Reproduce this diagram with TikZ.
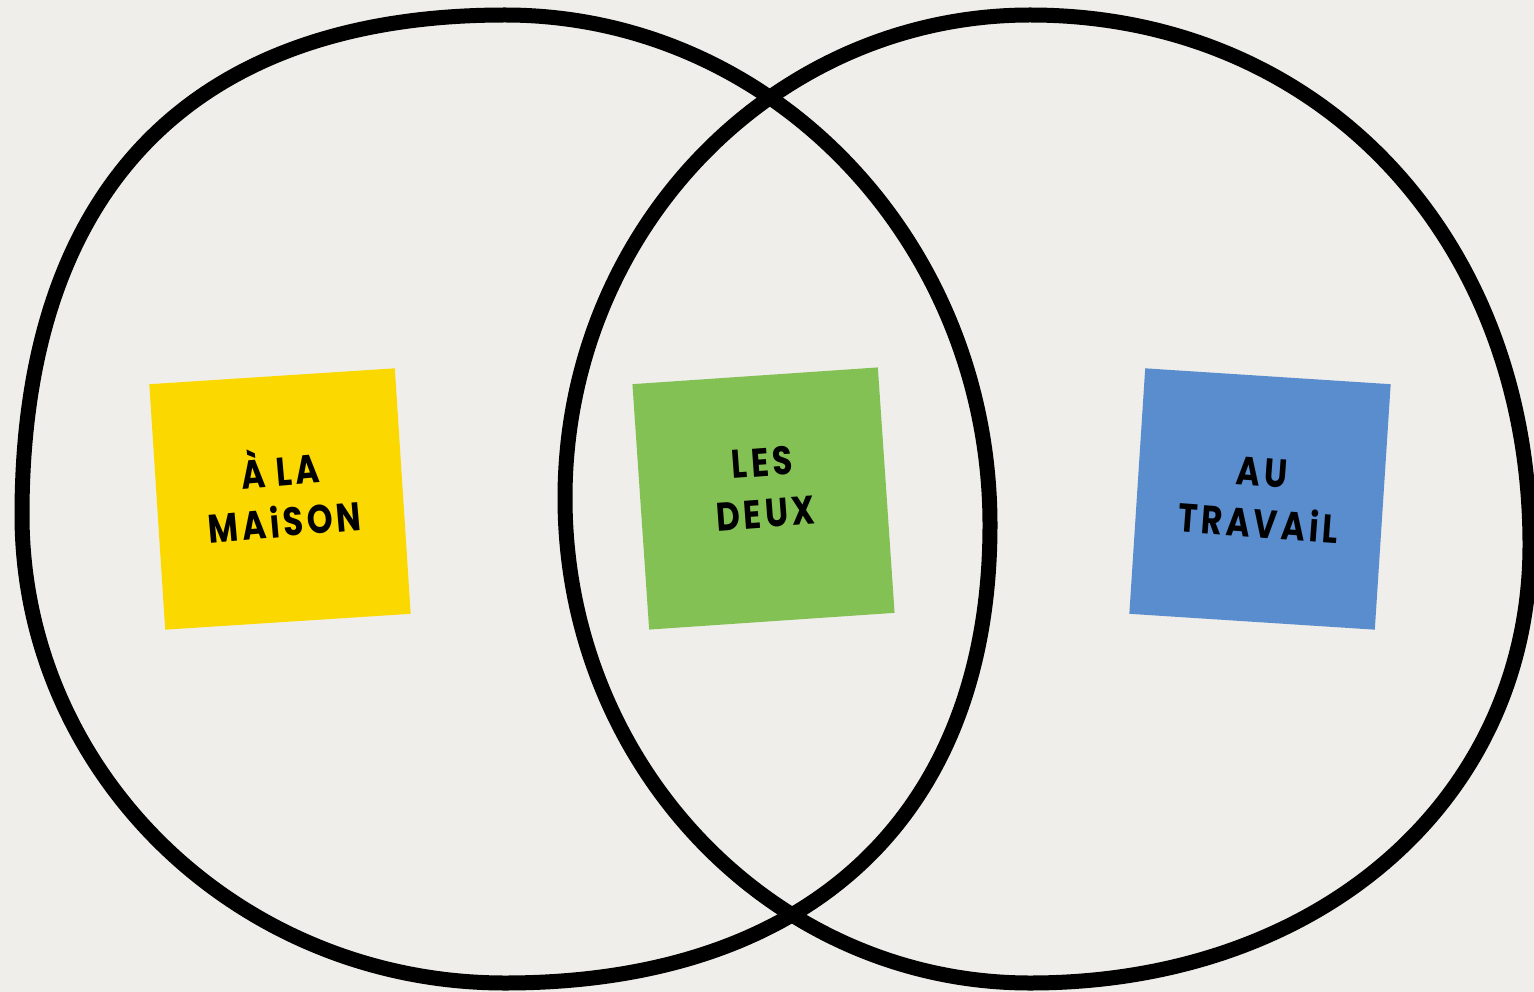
\documentclass[tikz,border=0pt]{standalone}
\usepackage{fontspec}
\newfontfamily\handfont{Poppins}[FakeStretch=0.82,LetterSpace=9]
\definecolor{bg}{RGB}{240,238,234}
\definecolor{noteyellow}{RGB}{250,216,0}
\definecolor{notegreen}{RGB}{132,193,85}
\definecolor{noteblue}{RGB}{90,141,206}
\begin{document}
\begin{tikzpicture}[x=1pt,y=-1pt,
  blob/.style={draw=black,line width=15pt,line join=round},
  note/.style={minimum size=246pt,inner sep=0pt,draw=none},
  hand/.style={font=\handfont\bfseries\fontsize{40}{51}\selectfont,align=center,inner sep=0pt,text=black}]
\useasboundingbox (0,0) rectangle (1534,992);
\fill[bg] (0,0) rectangle (1534,992);
% sticky notes
\node[note,fill=noteyellow,rotate=3.7] (home) at (280,499) {};
\node[note,fill=notegreen,rotate=3.9] (both) at (763.5,498.5) {};
\node[note,fill=noteblue,rotate=-3.7] (work) at (1260,499) {};
\node[hand,rotate=5] (homeT) at (282,492) {À LA\\MAiSON};
\node[hand,rotate=4.2] (bothT) at (764,488) {LES\\DEUX};
\node[hand,rotate=-4.2] (workT) at (1260,498) {AU\\TRAVAiL};
% left blob
\draw[blob] (505,15) .. controls (191,15) and (22,190) .. (22,515)
  .. controls (22,773) and (238,983) .. (505,983)
  .. controls (811,983) and (990,814) .. (990,525)
  .. controls (990,243) and (773,15) .. (505,15) -- cycle;
% right blob
\draw[blob] (1030,15) .. controls (773,15) and (565,231) .. (565,498)
  .. controls (565,766) and (773,983) .. (1030,983)
  .. controls (1320,983) and (1530,799) .. (1530,545)
  .. controls (1530,238) and (1320,15) .. (1030,15) -- cycle;
\end{tikzpicture}
\end{document}
